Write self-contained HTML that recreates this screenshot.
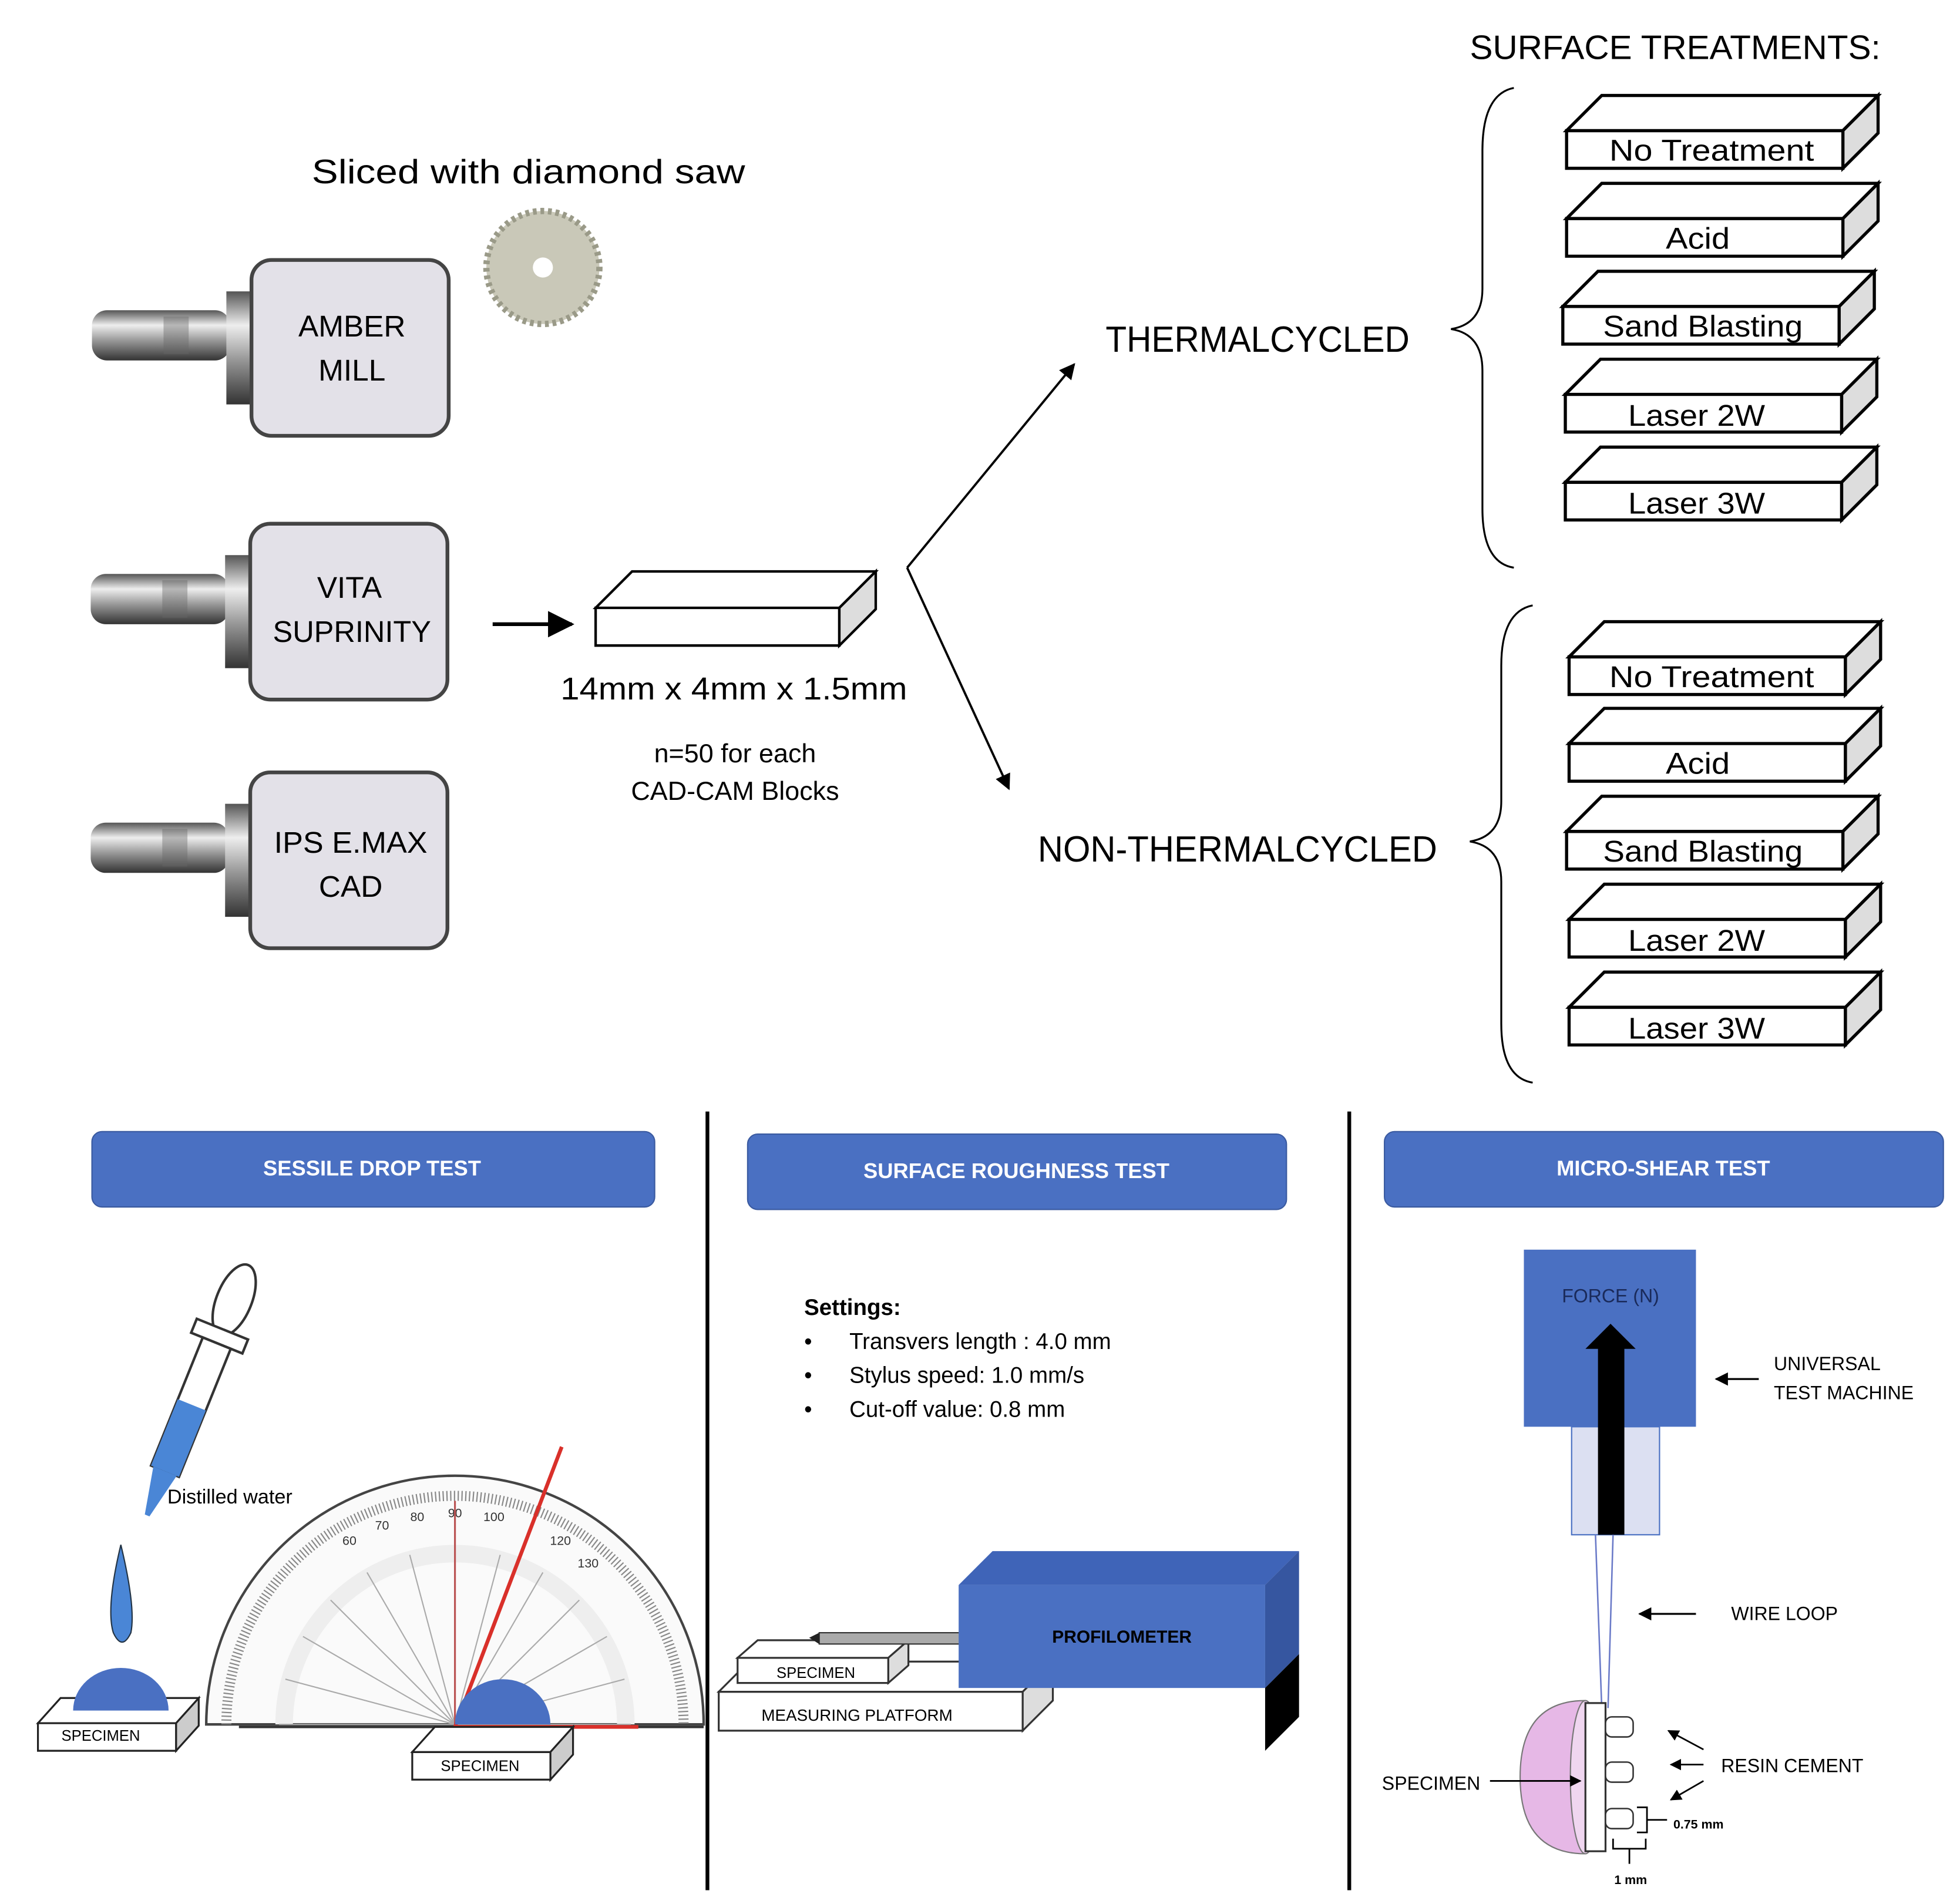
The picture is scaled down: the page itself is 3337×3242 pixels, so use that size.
<!DOCTYPE html>
<html><head><meta charset="utf-8"><style>
html,body{margin:0;padding:0;background:#fff}
svg{display:block}
text{font-family:"Liberation Sans",sans-serif}
</style></head><body>
<svg width="3337" height="3242" viewBox="0 0 1560 1516" xmlns="http://www.w3.org/2000/svg">
<defs>
<marker id="ah" viewBox="0 0 10 10" refX="9" refY="5" markerWidth="7" markerHeight="7" orient="auto"><path d="M0,0 L10,5 L0,10 z" fill="#000"/></marker>
<linearGradient id="metal" x1="0" y1="0" x2="0" y2="1"><stop offset="0" stop-color="#555"/><stop offset="0.3" stop-color="#eee"/><stop offset="0.6" stop-color="#999"/><stop offset="1" stop-color="#333"/></linearGradient>
<g id="blk"><path d="M0,0 h220 v30 h-220z" fill="#fff" stroke="#000" stroke-width="2.5"/><path d="M0,0 l28,-28 h220 l-28,28z" fill="#fff" stroke="#000" stroke-width="2.5"/><path d="M220,0 l28,-28 v30 l-28,28z" fill="#ddd" stroke="#000" stroke-width="2.5"/></g>
<g id="cad"><rect x="-127" y="40" width="110" height="40" rx="12" fill="url(#metal)"/><rect x="-70" y="45" width="20" height="30" fill="#666" opacity="0.4"/><rect x="-20" y="25" width="24" height="90" fill="url(#metal)"/><rect x="0" y="0" width="157" height="140" rx="16" fill="#e3e1e8" stroke="#444" stroke-width="3"/></g>
</defs>
<text x="1170" y="47" font-size="27" textLength="327" lengthAdjust="spacingAndGlyphs">SURFACE TREATMENTS:</text>
<g font-size="24">
<use href="#blk" x="1247" y="104"/><text x="1281" y="128" textLength="163" lengthAdjust="spacingAndGlyphs">No Treatment</text>
<use href="#blk" x="1247" y="174"/><text x="1326" y="198" textLength="51" lengthAdjust="spacingAndGlyphs">Acid</text>
<use href="#blk" x="1244" y="244"/><text x="1276" y="268" textLength="159" lengthAdjust="spacingAndGlyphs">Sand Blasting</text>
<use href="#blk" x="1246" y="314"/><text x="1296" y="339" textLength="109" lengthAdjust="spacingAndGlyphs">Laser 2W</text>
<use href="#blk" x="1246" y="384"/><text x="1296" y="409" textLength="109" lengthAdjust="spacingAndGlyphs">Laser 3W</text>
<use href="#blk" x="1249" y="523"/><text x="1281" y="547" textLength="163" lengthAdjust="spacingAndGlyphs">No Treatment</text>
<use href="#blk" x="1249" y="592"/><text x="1326" y="616" textLength="51" lengthAdjust="spacingAndGlyphs">Acid</text>
<use href="#blk" x="1247" y="662"/><text x="1276" y="686" textLength="159" lengthAdjust="spacingAndGlyphs">Sand Blasting</text>
<use href="#blk" x="1249" y="732"/><text x="1296" y="757" textLength="109" lengthAdjust="spacingAndGlyphs">Laser 2W</text>
<use href="#blk" x="1249" y="802"/><text x="1296" y="827" textLength="109" lengthAdjust="spacingAndGlyphs">Laser 3W</text>
</g>
<path d="M1205,70 Q1180,75 1180,120 V230 Q1180,258 1155,262 Q1180,266 1180,295 V405 Q1180,448 1205,452" fill="none" stroke="#000" stroke-width="1.5"/>
<path d="M1220,482 Q1195,487 1195,530 V638 Q1195,666 1170,670 Q1195,674 1195,702 V815 Q1195,858 1220,862" fill="none" stroke="#000" stroke-width="1.5"/>
<text x="880" y="280" font-size="29" textLength="242" lengthAdjust="spacingAndGlyphs">THERMALCYCLED</text>
<text x="826" y="686" font-size="29" textLength="318" lengthAdjust="spacingAndGlyphs">NON-THERMALCYCLED</text>
<line x1="722" y1="452" x2="855" y2="290" stroke="#000" stroke-width="1.8" marker-end="url(#ah)"/>
<line x1="722" y1="452" x2="803" y2="628" stroke="#000" stroke-width="1.8" marker-end="url(#ah)"/>
<path d="M474,484 h194 v30 h-194z M474,484 l29,-29 h194 l-29,29z" fill="#fff" stroke="#000" stroke-width="2"/>
<path d="M668,484 l29,-29 v30 l-29,29z" fill="#ddd" stroke="#000" stroke-width="2"/>
<text x="446" y="557" font-size="25" textLength="276" lengthAdjust="spacingAndGlyphs">14mm x 4mm x 1.5mm</text>
<text x="585" y="607" font-size="21" text-anchor="middle">n=50 for each</text>
<text x="585" y="637" font-size="21" text-anchor="middle">CAD-CAM Blocks</text>
<line x1="392" y1="497" x2="455" y2="497" stroke="#000" stroke-width="3" marker-end="url(#ah)"/>
<text x="248" y="146" font-size="27" textLength="345" lengthAdjust="spacingAndGlyphs">Sliced with diamond saw</text>
<circle cx="432" cy="213" r="45" fill="#c9c8b8" stroke="#9a9a88" stroke-width="5" stroke-dasharray="3 3"/><circle cx="432" cy="213" r="8" fill="#fff"/>
<use href="#cad" x="200" y="207"/><text x="280" y="268" font-size="24" text-anchor="middle">AMBER</text><text x="280" y="303" font-size="24" text-anchor="middle">MILL</text>
<use href="#cad" x="199" y="417"/><text x="278" y="476" font-size="24" text-anchor="middle">VITA</text><text x="280" y="511" font-size="24" text-anchor="middle" textLength="126" lengthAdjust="spacingAndGlyphs">SUPRINITY</text>
<use href="#cad" x="199" y="615"/><text x="279" y="679" font-size="24" text-anchor="middle" textLength="122" lengthAdjust="spacingAndGlyphs">IPS E.MAX</text><text x="279" y="714" font-size="24" text-anchor="middle">CAD</text>
<line x1="563" y1="885" x2="563" y2="1505" stroke="#000" stroke-width="3"/>
<line x1="1074" y1="885" x2="1074" y2="1505" stroke="#000" stroke-width="3"/>
<g fill="#4a70c2" stroke="#3a5aa0"><rect x="73" y="901" width="448" height="60" rx="8"/><rect x="595" y="903" width="429" height="60" rx="8"/><rect x="1102" y="901" width="445" height="60" rx="8"/></g>
<g fill="#fff" font-size="17" font-weight="bold" text-anchor="middle"><text x="296" y="936">SESSILE DROP TEST</text><text x="809" y="938">SURFACE ROUGHNESS TEST</text><text x="1324" y="936">MICRO-SHEAR TEST</text></g>
<!-- pipette -->
<g transform="rotate(22 160 1100)"><ellipse cx="160" cy="1030" rx="14" ry="30" fill="#fff" stroke="#333" stroke-width="2"/><rect x="138" y="1055" width="44" height="12" fill="#fff" stroke="#333" stroke-width="2"/><rect x="148" y="1067" width="24" height="110" fill="#fff" stroke="#333" stroke-width="2"/><rect x="148" y="1120" width="24" height="57" fill="#4a86d6"/><path d="M150,1177 L170,1177 L162,1215 L158,1215z" fill="#4a86d6"/></g>
<path d="M96,1230 Q84,1280 90,1300 Q97,1315 104,1300 Q108,1280 96,1230z" fill="#4a86d6" stroke="#234" stroke-width="1"/>
<text x="133" y="1197" font-size="16">Distilled water</text>
<!-- protractor -->
<path d="M164,1373 A198,198 0 0 1 560,1373z" fill="#fafafa" stroke="#444" stroke-width="2"/>
<path d="M180,1373 A182,182 0 0 1 544,1373" fill="none" stroke="#888" stroke-width="8" stroke-dasharray="1 2"/>
<path d="M226,1373 A136,136 0 0 1 498,1373" fill="none" stroke="#eee" stroke-width="14"/>
<g stroke="#aaa" stroke-width="1">
<line x1="362" y1="1373" x2="222" y2="1373"/><line x1="362" y1="1373" x2="227" y2="1337"/><line x1="362" y1="1373" x2="241" y2="1303"/><line x1="362" y1="1373" x2="263" y2="1274"/><line x1="362" y1="1373" x2="292" y2="1252"/><line x1="362" y1="1373" x2="326" y2="1238"/><line x1="362" y1="1373" x2="362" y2="1233"/><line x1="362" y1="1373" x2="398" y2="1238"/><line x1="362" y1="1373" x2="432" y2="1252"/><line x1="362" y1="1373" x2="461" y2="1274"/><line x1="362" y1="1373" x2="483" y2="1303"/><line x1="362" y1="1373" x2="497" y2="1337"/><line x1="362" y1="1373" x2="502" y2="1373"/>
</g>
<g font-size="10" fill="#333" text-anchor="middle"><text x="362" y="1208">90</text><text x="332" y="1211">80</text><text x="304" y="1218">70</text><text x="278" y="1230">60</text><text x="393" y="1211">100</text><text x="446" y="1230">120</text><text x="468" y="1248">130</text></g>
<line x1="190" y1="1375" x2="560" y2="1375" stroke="#333" stroke-width="2"/>
<line x1="362" y1="1373" x2="362" y2="1195" stroke="#b55" stroke-width="1.5"/>
<line x1="362" y1="1375" x2="447" y2="1152" stroke="#d9302a" stroke-width="3"/>
<line x1="362" y1="1375" x2="508" y2="1375" stroke="#d9302a" stroke-width="3"/>
<path d="M362,1373 A38,36 0 0 1 438,1373z" fill="#4a70c2"/>
<path d="M30,1372 h110 v22 h-110z" fill="#fff" stroke="#222" stroke-width="1.5"/><path d="M30,1372 l18,-20 h110 l-18,20z" fill="#fff" stroke="#222" stroke-width="1.5"/><path d="M140,1372 l18,-20 v22 l-18,20z" fill="#ccc" stroke="#222" stroke-width="1.5"/>
<path d="M58,1362 A38,34 0 0 1 134,1362z" fill="#4a70c2"/>
<text x="80" y="1386" font-size="12" text-anchor="middle">SPECIMEN</text>
<path d="M328,1395 h110 v22 h-110z" fill="#fff" stroke="#222" stroke-width="1.5"/><path d="M328,1395 l18,-20 h110 l-18,20z" fill="#fff" stroke="#222" stroke-width="1.5"/><path d="M438,1395 l18,-20 v22 l-18,20z" fill="#ccc" stroke="#222" stroke-width="1.5"/>
<text x="382" y="1410" font-size="12" text-anchor="middle">SPECIMEN</text>
<!-- roughness -->
<text x="640" y="1047" font-size="18" font-weight="bold">Settings:</text>
<g font-size="18"><text x="640" y="1074">•</text><text x="676" y="1074">Transvers length : 4.0 mm</text><text x="640" y="1101">•</text><text x="676" y="1101">Stylus speed: 1.0 mm/s</text><text x="640" y="1128">•</text><text x="676" y="1128">Cut-off value: 0.8 mm</text></g>
<path d="M572,1347 h242 v31 h-242z" fill="#fff" stroke="#333" stroke-width="1.5"/><path d="M572,1347 l24,-24 h242 l-24,24z" fill="#fff" stroke="#333" stroke-width="1.5"/><path d="M814,1347 l24,-24 v31 l-24,24z" fill="#ddd" stroke="#333" stroke-width="1.5"/>
<text x="606" y="1370" font-size="13">MEASURING PLATFORM</text>
<path d="M587,1320 h120 v20 h-120z" fill="#fff" stroke="#333" stroke-width="1.5"/><path d="M587,1320 l16,-14 h120 l-16,14z" fill="#fff" stroke="#333" stroke-width="1.5"/><path d="M707,1320 l16,-14 v20 l-16,14z" fill="#ddd" stroke="#333" stroke-width="1.5"/>
<text x="618" y="1336" font-size="12">SPECIMEN</text>
<rect x="652" y="1300" width="112" height="9" fill="#aaa" stroke="#333"/><path d="M652,1300 l-8,4 l8,5z" fill="#222"/>
<path d="M763,1262 l27,-27 h244 l-27,27z" fill="#3f64b8"/><rect x="763" y="1262" width="244" height="82" fill="#4a70c2"/><path d="M1007,1262 l27,-27 v82 l-27,27z" fill="#3656a0"/><path d="M1007,1344 l27,-27 v50 l-27,27z" fill="#000"/>
<text x="893" y="1308" font-size="14" font-weight="bold" text-anchor="middle">PROFILOMETER</text>
<!-- micro-shear -->
<rect x="1213" y="995" width="137" height="141" fill="#4a70c2"/>
<rect x="1251" y="1136" width="70" height="86" fill="#dce0f2" stroke="#4a70c2"/>
<rect x="1272" y="1072" width="21" height="150" fill="#000"/><path d="M1262,1074 l20,-20 l20,20z" fill="#000"/>
<text x="1282" y="1037" font-size="15" fill="#1a2a5a" text-anchor="middle">FORCE (N)</text>
<line x1="1400" y1="1098" x2="1366" y2="1098" stroke="#000" stroke-width="1.5" marker-end="url(#ah)"/>
<text x="1412" y="1091" font-size="15">UNIVERSAL</text><text x="1412" y="1114" font-size="15">TEST MACHINE</text>
<line x1="1270" y1="1222" x2="1275" y2="1360" stroke="#6a7ac8" stroke-width="1.2"/><line x1="1284" y1="1222" x2="1280" y2="1360" stroke="#6a7ac8" stroke-width="1.2"/>
<line x1="1350" y1="1285" x2="1305" y2="1285" stroke="#000" stroke-width="1.5" marker-end="url(#ah)"/>
<text x="1378" y="1290" font-size="15">WIRE LOOP</text>
<path d="M1262,1354 Q1210,1354 1210,1415 Q1210,1476 1262,1476 z" fill="#e6b8e6" stroke="#777"/>
<ellipse cx="1262" cy="1415" rx="12" ry="61" fill="#f0d6f0" stroke="#777"/>
<rect x="1262" y="1356" width="16" height="118" fill="#fff" stroke="#333" stroke-width="1.5"/>
<g fill="#fff" stroke="#333" stroke-width="1.2"><rect x="1278" y="1367" width="22" height="16" rx="5"/><rect x="1278" y="1403" width="22" height="16" rx="5"/><rect x="1278" y="1440" width="22" height="16" rx="5"/></g>
<g stroke="#000" stroke-width="1.3" marker-end="url(#ah)"><line x1="1356" y1="1393" x2="1328" y2="1378"/><line x1="1356" y1="1405" x2="1330" y2="1405"/><line x1="1356" y1="1418" x2="1330" y2="1433"/><line x1="1186" y1="1418" x2="1258" y2="1418"/></g>
<text x="1370" y="1411" font-size="15">RESIN CEMENT</text>
<text x="1100" y="1425" font-size="15">SPECIMEN</text>
<path d="M1303,1439 h8 v20 h-8 M1311,1449 h16" fill="none" stroke="#000" stroke-width="1.3"/>
<text x="1332" y="1456" font-size="10" font-weight="bold">0.75 mm</text>
<path d="M1284,1464 v8 h26 v-8 M1297,1472 v12" fill="none" stroke="#000" stroke-width="1.3"/>
<text x="1298" y="1500" font-size="10" font-weight="bold" text-anchor="middle">1 mm</text>
</svg>
</body></html>
